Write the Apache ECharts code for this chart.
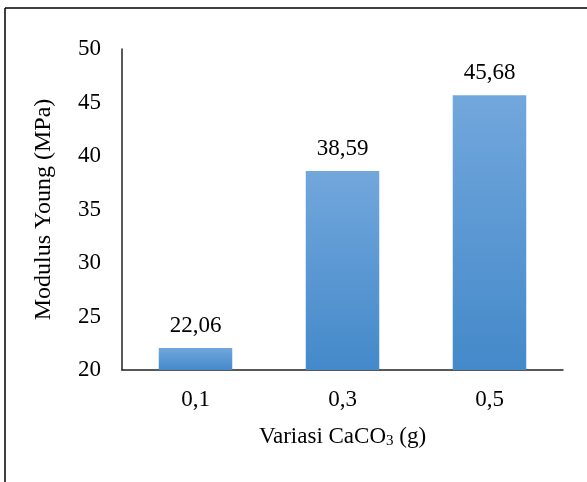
<!DOCTYPE html>
<html>
<head>
<meta charset="utf-8">
<script src="https://cdn.jsdelivr.net/npm/echarts@6/dist/echarts.min.js"></script>
<style>
  html, body { margin: 0; padding: 0; background: #fff; }
  #chart { width: 587px; height: 482px; }
</style>
</head>
<body>
<div id="chart"></div>
<script>
// CaCO3 variation (g) and the resulting Young's modulus (MPa)
const categories = ['0,1', '0,3', '0,5'];
const modulusValues = [22.06, 38.59, 45.68];
const yTicks = [20, 25, 30, 35, 40, 45, 50];

const FONT = '"Liberation Serif", "Times New Roman", serif';
const chart = echarts.init(document.getElementById('chart'), null, { renderer: 'canvas' });

chart.setOption({
  animation: false,
  backgroundColor: '#fff',
  textStyle: { fontFamily: FONT, color: '#000' },
  graphic: [
    // frame around the chart (top and left edges)
    { type: 'line', shape: { x1: 5, y1: 8, x2: 587, y2: 8 }, style: { stroke: '#000', lineWidth: 1.5 } },
    { type: 'line', shape: { x1: 5, y1: 8, x2: 5, y2: 482 }, style: { stroke: '#000', lineWidth: 1.5 } }
  ],
  grid: { left: 122, right: 24, top: 49, bottom: 112, containLabel: false },
  xAxis: {
    type: 'category',
    data: categories,
    name: '{n|Variasi CaCO}{s|3}{n| (g)}',
    nameLocation: 'middle',
    nameGap: 55,
    nameTextStyle: {
      rich: {
        n: { fontFamily: FONT, fontSize: 23, color: '#000' },
        s: { fontFamily: FONT, fontSize: 15, color: '#000', verticalAlign: 'bottom', padding: [9, 0, 0, 0] }
      }
    },
    axisLine: { lineStyle: { color: '#222', width: 1.5 } },
    axisTick: { show: false },
    axisLabel: { fontFamily: FONT, fontSize: 23, color: '#000', margin: 18 }
  },
  yAxis: {
    type: 'value',
    min: yTicks[0],
    max: yTicks[yTicks.length - 1],
    interval: 5,
    name: 'Modulus Young (MPa)',
    nameLocation: 'middle',
    nameGap: 66,
    nameTextStyle: { fontFamily: FONT, fontSize: 24, color: '#000' },
    axisLine: { show: true, lineStyle: { color: '#222', width: 1.5 } },
    axisTick: { show: false },
    splitLine: { show: false },
    axisLabel: { fontFamily: FONT, fontSize: 23, color: '#000', margin: 21 }
  },
  series: [{
    type: 'bar',
    data: modulusValues,
    barWidth: '50%',
    itemStyle: {
      color: new echarts.graphic.LinearGradient(0, 0, 0, 1, [
        { offset: 0, color: '#72a7dc' },
        { offset: 1, color: '#4489ca' }
      ])
    },
    label: {
      show: true,
      position: 'top',
      distance: 11,
      fontFamily: FONT,
      fontSize: 23,
      color: '#000',
      formatter: p => p.value.toFixed(2).replace('.', ',')
    }
  }]
});
</script>
</body>
</html>
